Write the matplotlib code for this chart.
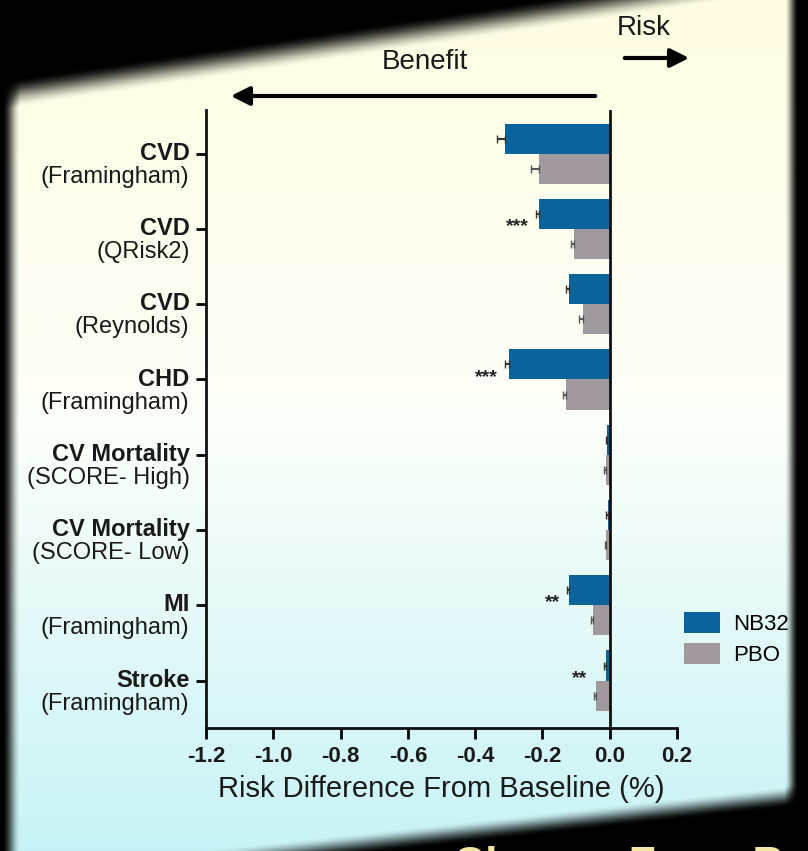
import numpy as np
import matplotlib
matplotlib.use("Agg")
import matplotlib.pyplot as plt

plt.rcParams['font.family'] = ['Liberation Sans', 'DejaVu Sans']

# ---- data ----
cat_main = ["CVD", "CVD", "CVD", "CHD", "CV Mortality", "CV Mortality", "MI", "Stroke"]
cat_sub = ["(Framingham)", "(QRisk2)", "(Reynolds)", "(Framingham)",
           "(SCORE- High)", "(SCORE- Low)", "(Framingham)", "(Framingham)"]
nb32 = [-0.31, -0.21, -0.12, -0.30, -0.008, -0.006, -0.12, -0.010]
nb32_err = [0.026, 0.010, 0.010, 0.012, 0.004, 0.004, 0.008, 0.006]
pbo = [-0.21, -0.105, -0.08, -0.13, -0.012, -0.010, -0.05, -0.040]
pbo_err = [0.023, 0.010, 0.010, 0.010, 0.004, 0.004, 0.006, 0.006]
sig = ["", "***", "", "***", "", "", "**", "**"]
xticks = [-1.2, -1.0, -0.8, -0.6, -0.4, -0.2, 0.0, 0.2]
series_names = ["NB32", "PBO"]

W, H = 808, 851
fig = plt.figure(figsize=(W / 100, H / 100), dpi=100)
fig.patch.set_facecolor("black")

def fx(x):
    return x / W

def fy(y):
    return 1 - y / H

# ---- background (photo-like panel with dark vignette) ----
yy, xx = np.mgrid[0:H, 0:W].astype(float)
t = yy / H
top_c = np.array([255, 253, 226]) / 255
mid_c = np.array([252, 255, 250]) / 255
bot_c = np.array([200, 243, 246]) / 255
a = np.clip(t / 0.5, 0, 1)[..., None]
b = np.clip((t - 0.5) / 0.5, 0, 1)[..., None]
col = np.where(t[..., None] < 0.5, top_c * (1 - a) + mid_c * a, mid_c * (1 - b) + bot_c * b)
ytop = 80 - 0.15 * xx
m1 = np.clip((yy - ytop) / 30, 0, 1)
ybot = 852 - 0.11 * (xx - 380)
m2 = np.clip((ybot - yy) / 22, 0, 1)
m3 = np.clip((xx - 2) / 18, 0, 1)
m4 = np.clip((798 - xx) / 14, 0, 1)
m = m1 * m2 * m3 * m4
m = m * m * (3 - 2 * m)
img = col * m[..., None]
bg = fig.add_axes([0, 0, 1, 1], zorder=0)
bg.imshow(img, aspect="auto", extent=[0, W, H, 0], interpolation="bilinear")
bg.set_xlim(0, W)
bg.set_ylim(H, 0)
bg.axis("off")

# ---- main chart ----
left_px, right_px, top_px, bot_px = 206, 677, 110, 728
ax = fig.add_axes([fx(left_px), fy(bot_px), fx(right_px) - fx(left_px), fy(top_px) - fy(bot_px)], zorder=2)
ax.set_facecolor("none")

blue = "#0b639c"
gray = "#a09a9e"
n = len(cat_main)
ypos = np.arange(n)
h = 0.4
b1 = ax.barh(ypos - 0.2, nb32, height=h, color=blue, label=series_names[0], zorder=3)
b2 = ax.barh(ypos + 0.2, pbo, height=h, color=gray, label=series_names[1], zorder=3)
ax.errorbar(nb32, ypos - 0.2, xerr=[nb32_err, [0] * n], fmt="none", ecolor="#333333",
            elinewidth=1.5, capsize=3, zorder=4)
ax.errorbar(pbo, ypos + 0.2, xerr=[pbo_err, [0] * n], fmt="none", ecolor="#555555",
            elinewidth=1.5, capsize=3, zorder=4)

for i in range(n):
    if sig[i]:
        xs = min(nb32[i] - nb32_err[i], pbo[i] - pbo_err[i]) - 0.02
        ax.text(xs, i - 0.03, sig[i], ha="right", va="center", fontsize=14,
                fontweight="bold", color="#222222")

ax.axvline(0, color="#111111", lw=2, zorder=5)
ax.set_xlim(-1.2, 0.2)
ax.set_ylim(n - 1 + 0.63, -0.58)
ax.set_xticks(xticks)
ax.set_xticklabels([f"{v:.1f}" for v in xticks], fontsize=16, fontweight="bold", color="#1a1a1a")
ax.set_yticks(ypos)
ax.set_yticklabels([""] * n)
ax.tick_params(axis="x", length=8, width=2, direction="out", pad=5)
ax.tick_params(axis="y", length=7, width=2, direction="out")
for s in ["top", "right"]:
    ax.spines[s].set_visible(False)
for s in ["left", "bottom"]:
    ax.spines[s].set_linewidth(2)
    ax.spines[s].set_color("#111111")

ax.set_xlabel("Risk Difference From Baseline (%)", fontsize=21, color="#1a1a1a", labelpad=6)

# category labels (two lines)
trans = ax.get_yaxis_transform()
for i in range(n):
    ax.text(-0.035, i + 0.08, cat_main[i], transform=trans, ha="right", va="baseline",
            fontsize=17, fontweight="bold", color="#1a1a1a")
    ax.text(-0.035, i + 0.16, cat_sub[i], transform=trans, ha="right", va="top",
            fontsize=17, color="#1a1a1a")

leg = fig.legend(handles=[b1, b2], loc="upper left",
                 bbox_to_anchor=(fx(684), fy(612)), frameon=False, fontsize=16,
                 handlelength=1.6, handleheight=1.1, handletextpad=0.6,
                 labelspacing=0.35, borderpad=0, borderaxespad=0)

# Benefit / Risk arrows
fig.text(fx(425), fy(62), "Benefit", ha="center", va="center", fontsize=20, color="#1a1a1a", zorder=5)
ax.annotate("", xy=(fx(228), fy(96)), xytext=(fx(598), fy(96)),
            xycoords="figure fraction", textcoords="figure fraction",
            arrowprops=dict(arrowstyle="-|>", lw=3, color="black", mutation_scale=28))
fig.text(fx(644), fy(28), "Risk", ha="center", va="center", fontsize=20, color="#1a1a1a", zorder=5)
ax.annotate("", xy=(fx(692), fy(58)), xytext=(fx(622), fy(58)),
            xycoords="figure fraction", textcoords="figure fraction",
            arrowprops=dict(arrowstyle="-|>", lw=3, color="black", mutation_scale=28))

# partially visible slide title at the bottom
fig.text(fx(453), fy(878), "Change From Baseline", ha="left", va="baseline",
         fontsize=32, fontweight="bold", color="#f2e8a4", zorder=5)

fig.savefig("out.png", dpi=100, facecolor=fig.get_facecolor())
